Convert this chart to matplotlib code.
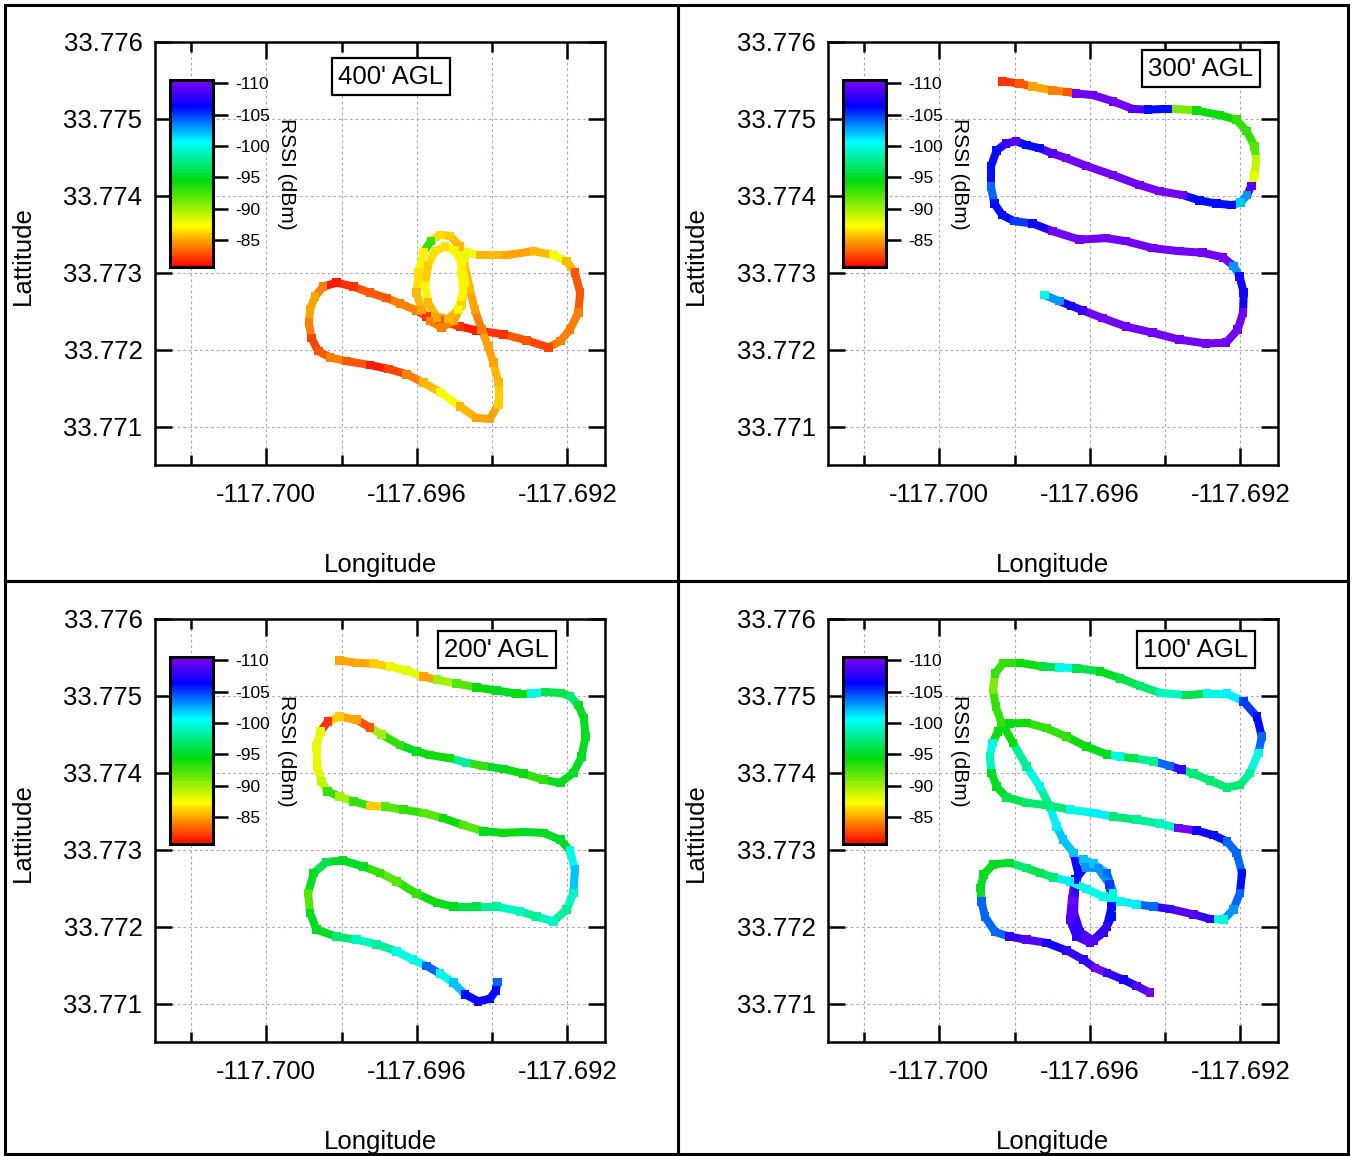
import matplotlib
matplotlib.use("Agg")
import matplotlib.pyplot as plt
import numpy as np
from matplotlib.collections import LineCollection
from matplotlib.colors import LinearSegmentedColormap, Normalize
from matplotlib.patches import Rectangle
from matplotlib.ticker import FixedLocator, FormatStrFormatter

plt.rcParams['font.family'] = ['Liberation Sans', 'DejaVu Sans']
plt.rcParams['axes.unicode_minus'] = False

# ---- data: flight tracks (lon, lat, RSSI dBm) ----
lon_400 = [-117.69468, -117.69432, -117.69361, -117.69290, -117.69237, -117.69202, -117.69180, -117.69166,
           -117.69171, -117.69193, -117.69219, -117.69250, -117.69308, -117.69370, -117.69441, -117.69485,
           -117.69539, -117.69574, -117.69601, -117.69645, -117.69680, -117.69725, -117.69769, -117.69813,
           -117.69849, -117.69871, -117.69884, -117.69887, -117.69880, -117.69862, -117.69831, -117.69787,
           -117.69725, -117.69676, -117.69627, -117.69583, -117.69539, -117.69485, -117.69441, -117.69406,
           -117.69383, -117.69383, -117.69397, -117.69410, -117.69428, -117.69446, -117.69459, -117.69472,
           -117.69485, -117.69512, -117.69539, -117.69563, -117.69583, -117.69596, -117.69601, -117.69587,
           -117.69565, -117.69534, -117.69503, -117.69481, -117.69472, -117.69481, -117.69499, -117.69525,
           -117.69552, -117.69570, -117.69578, -117.69570, -117.69547, -117.69516, -117.69490, -117.69477,
           -117.69481, -117.69472]
lat_400 = [33.77326, 33.77323, 33.77323, 33.77328, 33.77323, 33.77315, 33.77300, 33.77274,
           33.77248, 33.77226, 33.77211, 33.77203, 33.77212, 33.77220, 33.77225, 33.77230,
           33.77238, 33.77243, 33.77251, 33.77260, 33.77267, 33.77274, 33.77282, 33.77287,
           33.77282, 33.77269, 33.77252, 33.77235, 33.77215, 33.77198, 33.77190, 33.77185,
           33.77180, 33.77175, 33.77168, 33.77157, 33.77145, 33.77126, 33.77111, 33.77110,
           33.77129, 33.77157, 33.77183, 33.77204, 33.77226, 33.77252, 33.77278, 33.77308,
           33.77334, 33.77348, 33.77349, 33.77341, 33.77326, 33.77300, 33.77274, 33.77252,
           33.77237, 33.77229, 33.77237, 33.77258, 33.77287, 33.77313, 33.77329, 33.77334,
           33.77328, 33.77310, 33.77284, 33.77261, 33.77242, 33.77240, 33.77252, 33.77276,
           33.77300, 33.77321]
rssi_400 = [-87.5, -85.5, -85, -85.5, -87.5, -85.5, -83, -83, -84, -84, -84, -82.5, -83, -82, -81.5, -82,
            -83, -82, -84, -84, -83, -83, -82, -81.5, -84, -85, -85, -84, -82.5, -83, -84, -83,
            -81.5, -82.5, -84, -85.5, -87.5, -85.5, -85, -85, -86, -85.5, -85, -85, -84, -85, -85.5, -86,
            -85.5, -86, -86.5, -93, -87, -86.5, -85.5, -85, -84, -84, -85, -86, -87, -87, -87, -86.5,
            -86.5, -86, -87, -85.5, -85, -85.5, -87, -87, -87, -88]

lon_300 = [-117.69832, -117.69787, -117.69752, -117.69699, -117.69659, -117.69637, -117.69592, -117.69539,
           -117.69486, -117.69446, -117.69402, -117.69371, -117.69317, -117.69255, -117.69211, -117.69183,
           -117.69162, -117.69158, -117.69162, -117.69171, -117.69182, -117.69200, -117.69224, -117.69264,
           -117.69309, -117.69353, -117.69415, -117.69468, -117.69539, -117.69610, -117.69663, -117.69699,
           -117.69734, -117.69769, -117.69796, -117.69823, -117.69848, -117.69863, -117.69863, -117.69854,
           -117.69833, -117.69801, -117.69752, -117.69699, -117.69628, -117.69557, -117.69504, -117.69433,
           -117.69362, -117.69300, -117.69246, -117.69218, -117.69202, -117.69191, -117.69193, -117.69207,
           -117.69238, -117.69291, -117.69362, -117.69433, -117.69504, -117.69566, -117.69619, -117.69650,
           -117.69681, -117.69721]
lat_300 = [33.77549, 33.77546, 33.77542, 33.77537, 33.77535, 33.77533, 33.77531, 33.77523,
           33.77513, 33.77512, 33.77513, 33.77513, 33.77511, 33.77505, 33.77499, 33.77484,
           33.77464, 33.77447, 33.77427, 33.77413, 33.77401, 33.77391, 33.77388, 33.77390,
           33.77394, 33.77401, 33.77406, 33.77414, 33.77427, 33.77439, 33.77449, 33.77455,
           33.77462, 33.77466, 33.77471, 33.77468, 33.77459, 33.77438, 33.77412, 33.77390,
           33.77375, 33.77367, 33.77364, 33.77354, 33.77343, 33.77345, 33.77341, 33.77332,
           33.77328, 33.77326, 33.77320, 33.77309, 33.77295, 33.77274, 33.77248, 33.77226,
           33.77209, 33.77208, 33.77213, 33.77222, 33.77230, 33.77241, 33.77251, 33.77257,
           33.77263, 33.77271]
rssi_300 = [-82, -83, -85, -84, -83, -110, -110, -110, -109, -106, -106, -91, -94, -94, -93, -93,
            -92, -89, -88, -109, -103, -102, -106, -106, -106, -110, -110, -110, -110, -110, -110, -109,
            -106, -106, -109, -108, -106, -106, -104, -106, -106, -105, -107, -110, -110, -110, -110, -110,
            -110, -110, -110, -103, -107, -107, -110, -110, -110, -110, -110, -110, -110, -110, -108, -107,
            -103, -100]

lon_200 = [-117.69805, -117.69760, -117.69716, -117.69672, -117.69627, -117.69583, -117.69547, -117.69494,
           -117.69441, -117.69388, -117.69335, -117.69295, -117.69259, -117.69219, -117.69193, -117.69171,
           -117.69156, -117.69152, -117.69162, -117.69184, -117.69219, -117.69264, -117.69317, -117.69370,
           -117.69423, -117.69468, -117.69512, -117.69565, -117.69601, -117.69645, -117.69694, -117.69725,
           -117.69760, -117.69805, -117.69836, -117.69856, -117.69867, -117.69865, -117.69853, -117.69838,
           -117.69805, -117.69769, -117.69725, -117.69685, -117.69636, -117.69583, -117.69530, -117.69477,
           -117.69423, -117.69370, -117.69317, -117.69264, -117.69219, -117.69193, -117.69180, -117.69184,
           -117.69202, -117.69237, -117.69282, -117.69326, -117.69388, -117.69441, -117.69503, -117.69547,
           -117.69601, -117.69654, -117.69698, -117.69742, -117.69796, -117.69840, -117.69874, -117.69889,
           -117.69884, -117.69867, -117.69813, -117.69760, -117.69707, -117.69654, -117.69610, -117.69574,
           -117.69539, -117.69503, -117.69472, -117.69437, -117.69406, -117.69390, -117.69386]
lat_200 = [33.77546, 33.77543, 33.77542, 33.77538, 33.77533, 33.77525, 33.77521, 33.77516,
           33.77511, 33.77507, 33.77503, 33.77503, 33.77505, 33.77504, 33.77500, 33.77488,
           33.77471, 33.77447, 33.77421, 33.77400, 33.77387, 33.77391, 33.77399, 33.77405,
           33.77409, 33.77413, 33.77419, 33.77423, 33.77428, 33.77436, 33.77450, 33.77459,
           33.77469, 33.77473, 33.77467, 33.77454, 33.77434, 33.77408, 33.77389, 33.77376,
           33.77369, 33.77363, 33.77357, 33.77356, 33.77352, 33.77348, 33.77341, 33.77332,
           33.77324, 33.77322, 33.77323, 33.77322, 33.77313, 33.77299, 33.77274, 33.77244,
           33.77222, 33.77207, 33.77213, 33.77220, 33.77226, 33.77226, 33.77226, 33.77231,
           33.77243, 33.77259, 33.77270, 33.77278, 33.77286, 33.77284, 33.77270, 33.77244,
           33.77218, 33.77196, 33.77187, 33.77183, 33.77177, 33.77168, 33.77157, 33.77149,
           33.77139, 33.77127, 33.77112, 33.77103, 33.77106, 33.77117, 33.77128]
rssi_200 = [-85, -85, -86, -88, -88, -85, -90, -92, -94, -95, -94, -100, -96, -96, -97, -95,
            -95, -95, -95, -95, -95, -93, -94, -95, -93, -98, -94, -94, -95, -93, -90, -83,
            -85, -86, -82, -88, -88, -88, -89, -93, -90, -93, -86, -92, -93, -92, -94, -92,
            -95, -94, -95, -95, -95, -100, -102, -99, -98, -99, -98, -99, -98, -96, -95, -94,
            -93, -92, -93, -95, -95, -96, -95, -92, -95, -95, -97, -99, -98, -100, -100, -104,
            -100, -102, -106, -107, -106, -106, -104]

lon_100 = [-117.69617, -117.69591, -117.69555, -117.69538, -117.69542, -117.69564, -117.69600, -117.69635,
           -117.69653, -117.69648, -117.69640, -117.69613, -117.69578, -117.69548, -117.69542, -117.69555,
           -117.69591, -117.69626, -117.69642, -117.69640, -117.69631, -117.69644, -117.69671, -117.69688,
           -117.69706, -117.69733, -117.69768, -117.69804, -117.69835, -117.69850, -117.69857, -117.69852,
           -117.69830, -117.69786, -117.69724, -117.69680, -117.69635, -117.69573, -117.69520, -117.69467,
           -117.69414, -117.69343, -117.69289, -117.69236, -117.69192, -117.69156, -117.69143, -117.69152,
           -117.69174, -117.69201, -117.69236, -117.69281, -117.69325, -117.69356, -117.69387, -117.69431,
           -117.69484, -117.69520, -117.69555, -117.69609, -117.69662, -117.69715, -117.69768, -117.69813,
           -117.69844, -117.69859, -117.69866, -117.69861, -117.69848, -117.69821, -117.69768, -117.69715,
           -117.69653, -117.69591, -117.69538, -117.69476, -117.69414, -117.69365, -117.69316, -117.69272,
           -117.69236, -117.69210, -117.69196, -117.69201, -117.69219, -117.69245, -117.69281, -117.69325,
           -117.69387, -117.69431, -117.69476, -117.69520, -117.69564, -117.69609, -117.69653, -117.69697,
           -117.69733, -117.69768, -117.69813, -117.69857, -117.69882, -117.69891, -117.69888, -117.69879,
           -117.69852, -117.69813, -117.69768, -117.69715, -117.69662, -117.69617, -117.69586, -117.69555,
           -117.69511, -117.69476, -117.69440]
lat_100 = [33.77287, 33.77282, 33.77270, 33.77244, 33.77213, 33.77192, 33.77179, 33.77187,
           33.77209, 33.77235, 33.77261, 33.77277, 33.77276, 33.77255, 33.77226, 33.77200,
           33.77182, 33.77193, 33.77218, 33.77244, 33.77270, 33.77296, 33.77313, 33.77330,
           33.77356, 33.77382, 33.77408, 33.77439, 33.77465, 33.77486, 33.77508, 33.77529,
           33.77543, 33.77543, 33.77538, 33.77537, 33.77536, 33.77532, 33.77523, 33.77513,
           33.77504, 33.77501, 33.77503, 33.77503, 33.77493, 33.77473, 33.77447, 33.77426,
           33.77400, 33.77384, 33.77381, 33.77390, 33.77399, 33.77404, 33.77409, 33.77415,
           33.77419, 33.77421, 33.77424, 33.77434, 33.77447, 33.77458, 33.77465, 33.77464,
           33.77454, 33.77439, 33.77421, 33.77400, 33.77382, 33.77368, 33.77361, 33.77358,
           33.77352, 33.77348, 33.77343, 33.77339, 33.77334, 33.77328, 33.77325, 33.77319,
           33.77311, 33.77296, 33.77270, 33.77244, 33.77222, 33.77209, 33.77210, 33.77216,
           33.77223, 33.77226, 33.77229, 33.77233, 33.77239, 33.77249, 33.77259, 33.77264,
           33.77270, 33.77276, 33.77283, 33.77281, 33.77268, 33.77250, 33.77233, 33.77213,
           33.77193, 33.77187, 33.77183, 33.77179, 33.77169, 33.77157, 33.77146, 33.77140,
           33.77131, 33.77123, 33.77114]
rssi_100 = [-102, -102, -104, -100, -106, -108, -109, -108, -109, -110, -106, -103, -103, -105, -106, -108,
            -109, -108, -109, -108, -106, -102, -102, -101, -98, -100, -98, -94, -93, -93, -91, -93,
            -93, -94, -96, -100, -96, -95, -96, -97, -99, -96, -100, -101, -105, -106, -104, -100,
            -98, -97, -97, -97, -97, -108, -104, -98, -96, -100, -95, -94, -93, -93, -94, -95,
            -94, -100, -99, -95, -95, -96, -97, -97, -100, -101, -97, -98, -99, -110, -107, -106,
            -104, -104, -106, -104, -103, -100, -108, -109, -108, -104, -101, -100, -100, -100, -101, -97,
            -96, -97, -95, -95, -95, -95, -104, -104, -104, -108, -109, -107, -108, -108, -110, -108,
            -107, -109, -110]

panel_labels = ["400' AGL", "300' AGL", "200' AGL", "100' AGL"]
x_major = [-117.700, -117.696, -117.692]
x_minor = [-117.702, -117.698, -117.694]
y_major = [33.771, 33.772, 33.773, 33.774, 33.775, 33.776]
cbar_ticks = [-110, -105, -100, -95, -90, -85]

# colour scale: purple (weak) -> red (strong)
rssi_cmap = LinearSegmentedColormap.from_list("rssi", [
    (0.00, (0.50, 0.00, 0.95)),
    (0.14, (0.00, 0.00, 1.00)),
    (0.33, (0.00, 1.00, 1.00)),
    (0.54, (0.00, 0.85, 0.05)),
    (0.78, (1.00, 1.00, 0.00)),
    (0.89, (1.00, 0.50, 0.00)),
    (1.00, (1.00, 0.00, 0.00)),
])
norm = Normalize(vmin=-110.5, vmax=-80.7)

W, H = 1352, 1156
fig = plt.figure(figsize=(W / 100, H / 100), dpi=100)
fig.patch.set_facecolor("white")


def px_rect(x0, y0, x1, y1):
    return [x0 / W, 1 - y1 / H, (x1 - x0) / W, (y1 - y0) / H]


def draw_panel(dx, dy, lon, lat, rssi, label, label_xy):
    ax = fig.add_axes(px_rect(155 + dx, 42 + dy, 605 + dx, 465 + dy))
    ax.set_xlim(-117.70296, -117.69100)
    ax.set_ylim(33.7705, 33.776)
    ax.xaxis.set_major_locator(FixedLocator(x_major))
    ax.xaxis.set_minor_locator(FixedLocator(x_minor))
    ax.yaxis.set_major_locator(FixedLocator(y_major))
    ax.xaxis.set_major_formatter(FormatStrFormatter("%.3f"))
    ax.yaxis.set_major_formatter(FormatStrFormatter("%.3f"))
    ax.tick_params(which="both", direction="in", top=True, right=True, width=1.8, labelsize=18.5)
    ax.tick_params(which="major", length=12)
    ax.tick_params(which="minor", length=7)
    ax.tick_params(axis="x", pad=13)
    ax.tick_params(axis="y", pad=9)
    for sp in ax.spines.values():
        sp.set_linewidth(1.8)
    ax.set_axisbelow(True)
    ax.grid(which="both", color="#a4a4e6", linestyle=(0, (2.5, 2.5)), linewidth=0.8)

    ax.set_xlabel("Longitude", fontsize=18.5)
    ax.set_ylabel("Lattitude", fontsize=18.5)
    ax.xaxis.label.set_va("center")
    ax.yaxis.label.set_va("center")
    ax.xaxis.set_label_coords(0.5, -0.236)
    ax.yaxis.set_label_coords(-0.293, 0.496)

    lon = np.asarray(lon)
    lat = np.asarray(lat)
    rssi = np.asarray(rssi, dtype=float)
    pts = np.column_stack([lon, lat])
    segs = np.stack([pts[:-1], pts[1:]], axis=1)
    lc = LineCollection(segs, cmap=rssi_cmap, norm=norm, linewidths=5.8, capstyle="butt", zorder=3)
    lc.set_array(rssi[:-1])
    ax.add_collection(lc)
    ax.scatter(lon, lat, c=rssi, cmap=rssi_cmap, norm=norm, marker="s", s=38,
               linewidths=0, zorder=4)

    ax.text(label_xy[0], label_xy[1], label, transform=ax.transAxes, fontsize=18.5,
            ha="center", va="center", zorder=6,
            bbox=dict(boxstyle="square,pad=0.25", facecolor="white", edgecolor="black", linewidth=1.6))

    cax = fig.add_axes(px_rect(170 + dx, 80 + dy, 213 + dx, 267 + dy))
    sm = plt.cm.ScalarMappable(cmap=rssi_cmap, norm=norm)
    cb = fig.colorbar(sm, cax=cax, ticks=cbar_ticks)
    cb.outline.set_linewidth(2.2)
    cax.tick_params(direction="out", length=11, width=1.8, labelsize=12.5, pad=5)
    cax.invert_yaxis()
    cb.set_label("RSSI (dBm)", fontsize=15, rotation=270)
    cax.yaxis.label.set_va("center")
    cax.yaxis.set_label_coords(2.72, 0.497)
    return ax


draw_panel(0, 0, lon_400, lat_400, rssi_400, panel_labels[0], (0.524, 0.918))
draw_panel(673, 0, lon_300, lat_300, rssi_300, panel_labels[1], (0.829, 0.937))
draw_panel(0, 577, lon_200, lat_200, rssi_200, panel_labels[2], (0.760, 0.927))
draw_panel(673, 577, lon_100, lat_100, rssi_100, panel_labels[3], (0.817, 0.927))

# panel frames
for (x0, y0, x1, y1) in [(5, 5, 678, 581), (678, 5, 1348, 581), (5, 581, 678, 1154), (678, 581, 1348, 1154)]:
    fig.add_artist(Rectangle((x0 / W, 1 - y1 / H), (x1 - x0) / W, (y1 - y0) / H,
                             transform=fig.transFigure, fill=False, edgecolor="black", linewidth=2.2))

fig.savefig("out.png", dpi=100, facecolor="white")
